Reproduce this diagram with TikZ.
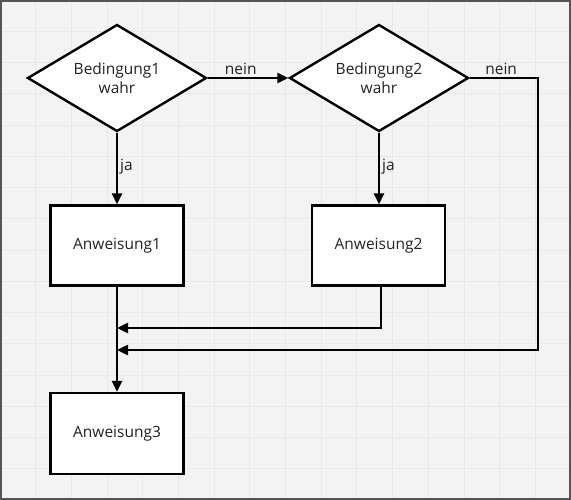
\documentclass[tikz,border=0pt]{standalone}
\usepackage{fontspec}
\setmainfont{Open Sans}
\usetikzlibrary{shapes.geometric,arrows.meta}
\definecolor{bgc}{HTML}{F3F3F3}
\definecolor{gridc}{HTML}{E8E8E8}
\definecolor{framec}{HTML}{555555}
\definecolor{txtc}{HTML}{222222}
\begin{document}
\begin{tikzpicture}[x=1pt,y=-1pt,
  txt/.style={font=\fontsize{15.5}{19}\selectfont, text=txtc},
  decision/.style={txt, diamond, draw=black, fill=white, line width=2.4pt, aspect=1.67,
    minimum width=179pt, minimum height=107pt, inner sep=0pt, align=center},
  stepbox/.style={txt, rectangle, draw=black, fill=white, line width=2.2pt,
    minimum width=133pt, minimum height=80pt, inner sep=0pt},
  arr/.style={line width=2.4pt, draw=black, -{Triangle[length=11pt,width=10pt]}},
  lbl/.style={txt, inner sep=2pt}]
\useasboundingbox (0,0) rectangle (571,500);
\fill[bgc] (0,0) rectangle (571,500);
\foreach \i in {1,...,15} {
  \draw[gridc, line width=0.8pt] ({\i*571/16},0) -- ({\i*571/16},500);
  \draw[gridc, line width=0.8pt] (0,{\i*31.25}) -- (571,{\i*31.25});
}
\draw[framec, line width=2pt] (1,1) rectangle (570,499);

\node[decision] (d1) at (117,78) {Bedingung1\\wahr};
\node[decision] (d2) at (379,78) {Bedingung2\\wahr};
\node[stepbox] (a1) at (117,245.5) {Anweisung1};
\node[stepbox] (a2) at (378.5,245.5) {Anweisung2};
\node[stepbox, minimum height=81pt] (a3) at (117,433.5) {Anweisung3};

\coordinate (j1) at (117,328);
\coordinate (j2) at (117,350);
\coordinate (c) at (538,350);

\draw[arr] (d1.east) -- node[lbl, above, pos=0.41] {nein} (d2.west);
\draw[arr] (d1.south) -- node[lbl, right, pos=0.47] {ja} (a1.north);
\draw[arr] (d2.south) -- node[lbl, right, pos=0.47] {ja} (d2.south |- a2.north);
\draw[arr] (a1.south) -- (a3.north);
\draw[arr] (a2.south -| 381,0) |- (j1);
\draw[arr] (d2.east) -| node[lbl, above, pos=0.23] {nein} (c) -- (j2);
\end{tikzpicture}
\end{document}
